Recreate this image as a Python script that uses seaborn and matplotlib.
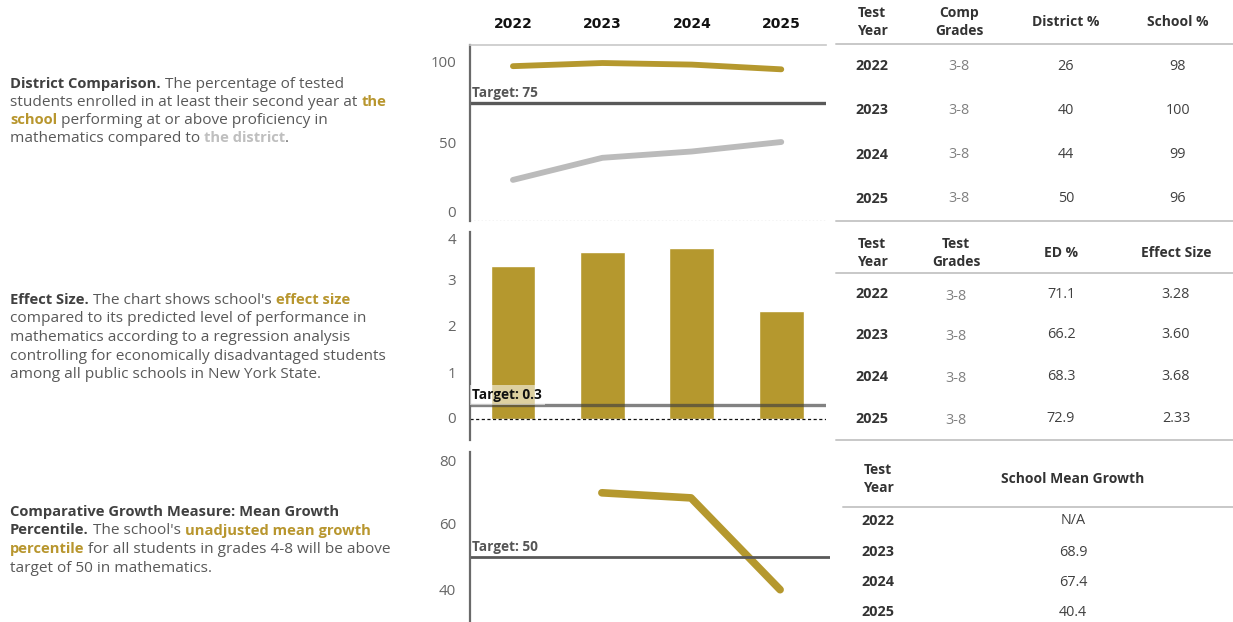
import numpy as np
import pandas as pd
import matplotlib
matplotlib.use("Agg")
import matplotlib.pyplot as plt
import seaborn as sns

# ---- data -------------------------------------------------------------
years = ["2022", "2023", "2024", "2025"]
district_pct = [26, 40, 44, 50]
school_pct = [98, 100, 99, 96]
proficiency_target = 75

comp_grades = ["3-8", "3-8", "3-8", "3-8"]
test_grades = ["3-8", "3-8", "3-8", "3-8"]
ed_pct = [71.1, 66.2, 68.3, 72.9]
effect_size = [3.28, 3.60, 3.68, 2.33]
effect_target = 0.3

mean_growth = [np.nan, 68.9, 67.4, 40.4]
growth_target = 50

# ---- style ------------------------------------------------------------
sns.set_theme(style="white")
plt.rcParams["font.family"] = ["Open Sans", "DejaVu Sans"]

GOLD = "#B5982E"
GOLD_TXT = "#B8962E"
LIGHT = "#BBBBBB"
BODY = "#595959"
HEAD = "#404040"
TICK = "#666666"
TARGET = "#595959"

W, H = 1233, 622
fig = plt.figure(figsize=(W / 100, H / 100), dpi=100)

# full-figure overlay in pixel units for text blocks and tables
ov = fig.add_axes([0, 0, 1, 1], zorder=0)
ov.set_xlim(0, W)
ov.set_ylim(H, 0)
ov.axis("off")


def rect(x0, y0, x1, y1):
    return [x0 / W, 1 - y1 / H, (x1 - x0) / W, (y1 - y0) / H]


renderer = fig.canvas.get_renderer()


def text_width(s, size, weight):
    t = ov.text(0, 0, "|" + s + "|", fontsize=size, fontweight=weight)
    b = ov.text(0, 0, "||", fontsize=size, fontweight=weight)
    w = t.get_window_extent(renderer).width - b.get_window_extent(renderer).width
    t.remove()
    b.remove()
    return w


SIZES = {"normal": 11.1, "bold": 10.6}


def rich_block(x, y, lines, step=18.5):
    for i, segs in enumerate(lines):
        cx = x
        for s, weight, color in segs:
            size = SIZES[weight]
            ov.text(cx, y + i * step, s, fontsize=size, fontweight=weight,
                    color=color, va="baseline", ha="left")
            cx += text_width(s, size, weight)


N, B = "normal", "bold"
rich_block(10, 88, [
    [("District Comparison.", B, HEAD), (" The percentage of tested", N, BODY)],
    [("students enrolled in at least their second year at ", N, BODY), ("the", B, GOLD_TXT)],
    [("school", B, GOLD_TXT), (" performing at or above proficiency in", N, BODY)],
    [("mathematics compared to ", N, BODY), ("the district", B, "#BFBFBF"), (".", N, BODY)],
], step=18)
rich_block(10, 304, [
    [("Effect Size.", B, HEAD), (" The chart shows school's ", N, BODY), ("effect size", B, GOLD_TXT)],
    [("compared to its predicted level of performance in", N, BODY)],
    [("mathematics according to a regression analysis", N, BODY)],
    [("controlling for economically disadvantaged students", N, BODY)],
    [("among all public schools in New York State.", N, BODY)],
])
rich_block(10, 516, [
    [("Comparative Growth Measure: Mean Growth", B, HEAD)],
    [("Percentile.", B, HEAD), (" The school's ", N, BODY), ("unadjusted mean growth", B, GOLD_TXT)],
    [("percentile", B, GOLD_TXT), (" for all students in grades 4-8 will be above", N, BODY)],
    [("target of 50 in mathematics.", N, BODY)],
])

pos = np.arange(len(years))


def style_axis(ax, yticks, low_va="center", high_va="center"):
    ax.set_facecolor("none")
    for side in ["top", "right", "bottom"]:
        ax.spines[side].set_visible(False)
    ax.spines["left"].set_color("#6a6a6a")
    ax.spines["left"].set_linewidth(1.6)
    ax.set_yticks(yticks)
    ax.set_yticklabels([str(v) for v in yticks])
    ax.tick_params(axis="y", length=4, width=0.8, color="#e4e4e4", pad=6,
                   labelsize=10.8, labelcolor=TICK)
    labels = ax.get_yticklabels()
    labels[0].set_verticalalignment(low_va)
    labels[-1].set_verticalalignment(high_va)
    ax.set_xlabel("")
    ax.set_ylabel("")


def target_label(ax, y, label, **kw):
    ax.text(-0.455, y, label, fontsize=9.8, fontweight="bold", va="bottom",
            ha="left", **kw)


# ---- panel 1: district vs school proficiency ---------------------------
ax1 = fig.add_axes(rect(470, 45, 826, 221), zorder=2)
sns.lineplot(x=pos, y=district_pct, color=LIGHT, linewidth=4.2,
             solid_capstyle="round", ax=ax1)
sns.lineplot(x=pos, y=school_pct, color=GOLD, linewidth=4.2,
             solid_capstyle="round", ax=ax1)
ax1.axhline(proficiency_target, color=TARGET, linewidth=2.4)
target_label(ax1, proficiency_target + 1.8, f"Target: {proficiency_target}", color="#555555")
ax1.axhline(0, color="#c8c8c8", linestyle=":", linewidth=1)
ax1.set_xlim(-0.48, 3.5)
ax1.set_ylim(0, 111.4)
style_axis(ax1, [0, 50, 100], low_va="bottom")
ax1.spines["top"].set_visible(True)
ax1.spines["top"].set_color("#c8c8c8")
ax1.spines["top"].set_linewidth(1.2)
ax1.xaxis.set_ticks_position("top")
ax1.set_xticks(pos)
ax1.set_xticklabels(years, fontfamily="DejaVu Sans", fontweight="bold",
                    fontsize=10, color="#111111")
ax1.tick_params(axis="x", length=0, pad=10)

# ---- panel 2: effect size bars -----------------------------------------
ax2 = fig.add_axes(rect(470, 232, 826, 440), zorder=2)
sns.barplot(x=years, y=effect_size, color=GOLD, saturation=1, width=0.5,
            errorbar=None, ax=ax2)
ax2.axhline(0, color="#111111", linestyle=(0, (2.5, 2)), linewidth=0.9)
ax2.axhline(effect_target, color="#404040", alpha=0.65, linewidth=2.4)
target_label(ax2, effect_target + 0.07, f"Target: {effect_target}", color="#111111",
             bbox=dict(facecolor="white", alpha=0.55, edgecolor="none",
                       boxstyle="square,pad=0.2"))
ax2.set_xlim(-0.48, 3.5)
ax2.set_ylim(-0.45, 4.02)
style_axis(ax2, [0, 1, 2, 3, 4], high_va="top")
ax2.set_xticks([])

# ---- panel 3: mean growth percentile -----------------------------------
ax3 = fig.add_axes(rect(470, 452, 830, 622), zorder=2)
sns.lineplot(x=pos, y=mean_growth, color=GOLD, linewidth=5.5,
             solid_capstyle="round", ax=ax3)
ax3.axhline(growth_target, color=TARGET, linewidth=2)
target_label(ax3, growth_target + 0.8, f"Target: {growth_target}", color="#555555")
ax3.set_xlim(-0.48, 3.56)
ax3.set_ylim(30.9, 80.9)
style_axis(ax3, [40, 60, 80], high_va="top")
ax3.set_xticks([])

# ---- tables -------------------------------------------------------------
HDR = "#333333"
VAL = "#404040"
GRD = "#808080"
RULE = "#c8c8c8"


def table(cols, headers, header_y, rule_y, rows_y, columns, colors,
          rule_x0=836, bottom_y=None, grade_dy=0):
    for cx, h in zip(cols, headers):
        ov.text(cx, header_y, h, ha="center", va="center", fontsize=10,
                fontweight="bold", color=HDR, linespacing=1.35)
    ov.plot([rule_x0, W], [rule_y, rule_y], color=RULE, linewidth=1.4)
    if bottom_y is not None:
        ov.plot([836, W], [bottom_y, bottom_y], color=RULE, linewidth=1.4)
    for cx, vals, (col, wt) in zip(cols, columns, colors):
        dy = grade_dy if col == GRD else 0
        for ry, v in zip(rows_y, vals):
            ov.text(cx, ry + dy, v, ha="center", va="center", fontsize=10.4,
                    fontweight=wt, color=col)


year_col = (HDR, "bold")
table([872, 959, 1066, 1178],
      ["Test\nYear", "Comp\nGrades", "District %", "School %"],
      22, 44, [66, 110, 155, 199],
      [years, comp_grades, [str(v) for v in district_pct], [str(v) for v in school_pct]],
      [year_col, (GRD, "normal"), (VAL, "normal"), (VAL, "normal")],
      bottom_y=221)
table([872, 956, 1061, 1176],
      ["Test\nYear", "Test\nGrades", "ED %", "Effect Size"],
      253, 273, [294, 335, 377, 419],
      [years, test_grades, [f"{v:.1f}" for v in ed_pct], [f"{v:.2f}" for v in effect_size]],
      [year_col, (GRD, "normal"), (VAL, "normal"), (VAL, "normal")],
      bottom_y=440, grade_dy=2)
table([878, 1073],
      ["Test\nYear", "School Mean Growth"],
      479, 507, [521, 552, 582, 612],
      [years, ["N/A" if np.isnan(v) else f"{v:.1f}" for v in mean_growth]],
      [year_col, (VAL, "normal")],
      rule_x0=843)

fig.savefig("out.png", dpi=100)
